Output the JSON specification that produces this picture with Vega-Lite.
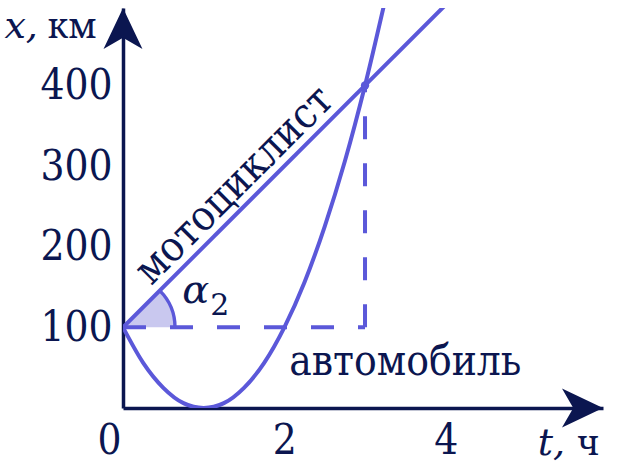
{
  "$schema": "https://vega.github.io/schema/vega-lite/v6.json",
  "description": "Motorcyclist and automobile: x (km) against t (h).",
  "background": "white",
  "autosize": "none",
  "width": 480,
  "height": 400,
  "padding": {"left": 123, "top": 8, "right": 30, "bottom": 67},
  "datasets": {
    "motorcyclist": [
      {"t": 0, "x": 100},
      {"t": 3, "x": 400},
      {"t": 4, "x": 500}
    ],
    "automobile": [
      {"t": 0, "x": 100},
      {"t": 0.25, "x": 56},
      {"t": 0.5, "x": 25},
      {"t": 0.75, "x": 6},
      {"t": 1, "x": 0},
      {"t": 1.25, "x": 6},
      {"t": 1.5, "x": 25},
      {"t": 1.75, "x": 56},
      {"t": 2, "x": 100},
      {"t": 2.25, "x": 156},
      {"t": 2.5, "x": 225},
      {"t": 2.75, "x": 306},
      {"t": 3, "x": 400},
      {"t": 3.25, "x": 506}
    ],
    "dashes": [
      {"t": 0, "t2": 3, "x": 100, "x2": 100},
      {"t": 3, "t2": 3, "x": 100, "x2": 400}
    ],
    "origin": [{"t": 0, "x": 100}],
    "meeting": [{"t": 3, "x": 400}],
    "yArrow": [{"t": 0, "x": 496}],
    "xArrow": [{"t": 5.95, "x": 0}],
    "varNames": [
      {"t": -1.47, "x": 459, "label": "x,"},
      {"t": 5.14, "x": -58, "label": "t,"}
    ],
    "units": [
      {"t": -0.94, "x": 459, "label": "км"},
      {"t": 5.63, "x": -58, "label": "ч"}
    ],
    "carName": [{"t": 3.5, "x": 41, "label": "автомобиль"}],
    "bikeName": [{"t": 1.57, "x": 257, "label": "мотоциклист"}],
    "alpha": [{"t": 0.733, "x": 130, "label": "α"}],
    "alphaSub": [{"t": 1.08, "x": 115, "label": "2"}]
  },
  "encoding": {
    "x": {
      "field": "t",
      "type": "quantitative",
      "scale": {"domain": [0, 5.95], "nice": false},
      "axis": {
        "values": [0, 2, 4],
        "labelPadding": 12,
        "labelOffset": {"condition": {"test": "datum.value === 0", "value": -26}, "value": 0}
      }
    },
    "y": {
      "field": "x",
      "type": "quantitative",
      "scale": {"domain": [0, 496], "nice": false},
      "axis": {"values": [100, 200, 300, 400], "labelPadding": 11}
    }
  },
  "layer": [
    {
      "data": {"name": "origin"},
      "mark": {"type": "arc", "theta": 0.7854, "theta2": 1.5708, "radius": 52, "radius2": 0, "fill": "#c9c8ef", "stroke": null}
    },
    {
      "data": {"name": "origin"},
      "mark": {"type": "arc", "theta": 0.7854, "theta2": 1.5708, "radius": 53.7, "radius2": 50.3, "fill": "#5b58d9", "stroke": null}
    },
    {
      "data": {"name": "dashes"},
      "mark": {"type": "rule", "color": "#5b58d9", "strokeWidth": 4, "strokeDash": [23, 24]},
      "encoding": {
        "x2": {"field": "t2"},
        "y2": {"field": "x2"}
      }
    },
    {
      "data": {"name": "motorcyclist"},
      "mark": {"type": "line", "color": "#5b58d9", "strokeWidth": 4, "clip": true}
    },
    {
      "data": {"name": "automobile"},
      "mark": {"type": "line", "color": "#5b58d9", "strokeWidth": 4, "clip": true, "interpolate": "monotone"}
    },
    {
      "data": {"name": "meeting"},
      "mark": {"type": "point", "filled": true, "opacity": 1, "size": 70, "color": "#5b58d9"}
    },
    {
      "data": {"name": "yArrow"},
      "mark": {"type": "point", "filled": true, "opacity": 1, "size": 1681, "color": "#0b1650", "strokeWidth": 0, "shape": "M0,0 L-0.95,2 L0,1.45 L0.95,2 Z"}
    },
    {
      "data": {"name": "xArrow"},
      "mark": {"type": "point", "filled": true, "opacity": 1, "size": 1681, "color": "#0b1650", "strokeWidth": 0, "shape": "M0,0 L-2,-0.95 L-1.45,0 L-2,0.95 Z"}
    },
    {
      "data": {"name": "varNames"},
      "mark": {"type": "text", "align": "left", "baseline": "alphabetic", "font": "DejaVu Serif", "fontStyle": "italic", "fontSize": 38, "color": "#0b1650"},
      "encoding": {"text": {"field": "label"}}
    },
    {
      "data": {"name": "units"},
      "mark": {"type": "text", "align": "left", "baseline": "alphabetic", "font": "Noto Serif", "fontSize": 35, "color": "#0b1650"},
      "encoding": {"text": {"field": "label"}}
    },
    {
      "data": {"name": "carName"},
      "mark": {"type": "text", "align": "center", "baseline": "alphabetic", "font": "DejaVu Serif Condensed", "fontSize": 42, "color": "#0b1650"},
      "encoding": {"text": {"field": "label"}}
    },
    {
      "data": {"name": "bikeName"},
      "mark": {"type": "text", "align": "center", "baseline": "alphabetic", "angle": 315, "dy": -9, "font": "DejaVu Serif Condensed", "fontSize": 42, "color": "#0b1650"},
      "encoding": {"text": {"field": "label"}}
    },
    {
      "data": {"name": "alpha"},
      "mark": {"type": "text", "align": "left", "baseline": "alphabetic", "font": "DejaVu Serif", "fontStyle": "italic", "fontSize": 40, "color": "#0b1650"},
      "encoding": {"text": {"field": "label"}}
    },
    {
      "data": {"name": "alphaSub"},
      "mark": {"type": "text", "align": "left", "baseline": "alphabetic", "font": "DejaVu Serif", "fontSize": 30, "color": "#0b1650"},
      "encoding": {"text": {"field": "label"}}
    }
  ],
  "config": {
    "view": {"stroke": null},
    "axis": {
      "title": null,
      "grid": false,
      "ticks": false,
      "domainColor": "#0b1650",
      "domainWidth": 3.5,
      "labelFont": "DejaVu Serif Condensed",
      "labelFontSize": 42,
      "labelColor": "#0b1650"
    }
  }
}
